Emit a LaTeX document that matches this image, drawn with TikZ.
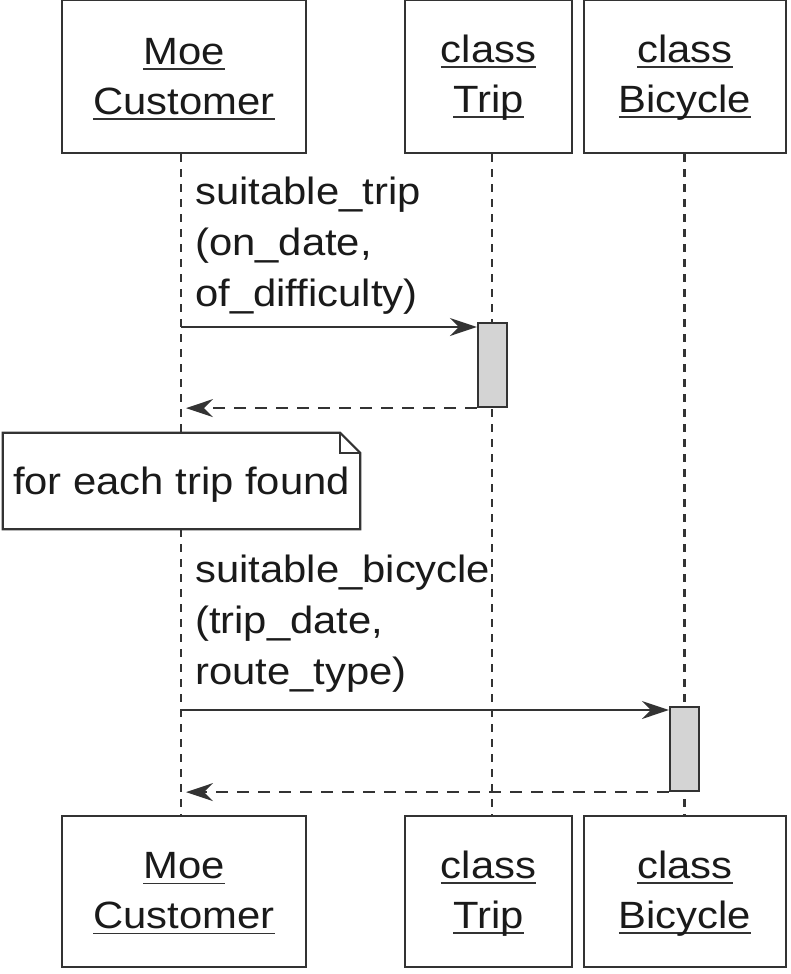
\documentclass[tikz,border=0pt]{standalone}
\usepackage{fontspec}
\setmainfont[FakeStretch=1.1]{Liberation Sans}
\usetikzlibrary{arrows.meta}
\definecolor{ln}{HTML}{333333}
\definecolor{tx}{HTML}{1A1A1A}
\definecolor{actfill}{HTML}{D4D4D4}
\newcommand\ulx[1]{\setbox0=\hbox{#1}\rlap{\color{ln}\rule[-5.5pt]{\wd0}{1.8pt}}\box0}
\tikzset{
  lbox/.style={draw=ln, line width=2.4pt, fill=white, inner sep=0pt},
  btext/.style={text=tx, align=center, font=\fontsize{38}{50}\selectfont, inner sep=0pt},
  lbl/.style={text=tx, align=left, font=\fontsize{38}{51}\selectfont, inner sep=0pt},
  life/.style={draw=ln, line width=2.2pt, dash pattern=on 8pt off 7pt},
  msg/.style={draw=ln, line width=2pt, -{Stealth[length=27pt,width=18pt,inset=9pt]}},
  ret/.style={msg, dash pattern=on 12pt off 9pt},
  act/.style={draw=ln, line width=2.2pt, fill=actfill, inner sep=0pt, minimum width=29pt, minimum height=84pt},
  notebox/.style={fill=white, inner sep=0pt, text=tx, font=\fontsize{38}{50}\selectfont, minimum width=357pt, minimum height=96pt, text height=30pt, text depth=4pt},
  noteline/.style={draw=ln, line width=2.2pt, line join=miter}
}
\begin{document}
\begin{tikzpicture}[x=1pt,y=-1pt]
\fill[white] (0,0) rectangle (791,974);
\useasboundingbox (0,0) rectangle (791,974);
% lifeline x positions
\coordinate (cl) at (181,0);
\coordinate (tl) at (492,0);
\coordinate (bl) at (684.5,0);
% head boxes (top)
\node[lbox, minimum width=244pt, minimum height=153pt] (custTop) at (184,76.5) {};
\node[lbox, minimum width=167pt, minimum height=153pt] (tripTop) at (488.5,76.5) {};
\node[lbox, minimum width=202pt, minimum height=153pt] (bikeTop) at (685,76.5) {};
% head boxes (bottom)
\node[lbox, minimum width=244pt, minimum height=151pt] (custBot) at (184,891.5) {};
\node[lbox, minimum width=167pt, minimum height=151pt] (tripBot) at (488.5,891.5) {};
\node[lbox, minimum width=202pt, minimum height=151pt] (bikeBot) at (685,891.5) {};
% lifelines
\draw[life] (custTop.south -| cl) -- (custBot.north -| cl);
\draw[life] (tripTop.south -| tl) -- (tripBot.north -| tl);
\draw[life] (bikeTop.south -| bl) -- (bikeBot.north -| bl);
% note
\node[notebox] (note) at (181.5,481) {for each trip found};
\draw[noteline] (note.north west) -- ([xshift=-20pt]note.north east) -- ([yshift=-20pt]note.north east) -- (note.south east) -- (note.south west) -- cycle;
\draw[noteline] ([xshift=-20pt]note.north east) -- ([xshift=-20pt,yshift=-20pt]note.north east) -- ([yshift=-20pt]note.north east);
% activations
\node[act] (actTrip) at (492.5,365) {};
\node[act] (actBike) at (684.5,749) {};
% messages
\coordinate (m1) at (181,327);
\coordinate (m2) at (181,710);
\coordinate (rx) at (186,0);
\draw[msg] (m1) -- (m1 -| actTrip.west);
\draw[ret] (actTrip.south west) -- (actTrip.south west -| rx);
\draw[msg] (m2) -- (m2 -| actBike.west);
\draw[ret] (actBike.south west) -- (actBike.south west -| rx);
% labels
\node[lbl, anchor=base west] (lab1) at (195,306) {suitable\_trip\\(on\_date,\\of\_difficulty)};
\node[lbl, anchor=base west] (lab2) at (195,684) {suitable\_bicycle\\(trip\_date,\\route\_type)};
% head texts
\node[btext] (custTopT) at ([yshift=-2.5pt]custTop.center) {\ulx{Moe}\\\ulx{Customer}};
\node[btext] (tripTopT) at ([yshift=-1pt]tripTop.center) {\ulx{class}\\\ulx{Trip}};
\node[btext] (bikeTopT) at ([yshift=-1pt]bikeTop.center) {\ulx{class}\\\ulx{Bicycle}};
\node[btext] (custBotT) at ([yshift=-2pt]custBot.center) {\ulx{Moe}\\\ulx{Customer}};
\node[btext] (tripBotT) at ([yshift=-2pt]tripBot.center) {\ulx{class}\\\ulx{Trip}};
\node[btext] (bikeBotT) at ([yshift=-2pt]bikeBot.center) {\ulx{class}\\\ulx{Bicycle}};
\end{tikzpicture}
\end{document}
